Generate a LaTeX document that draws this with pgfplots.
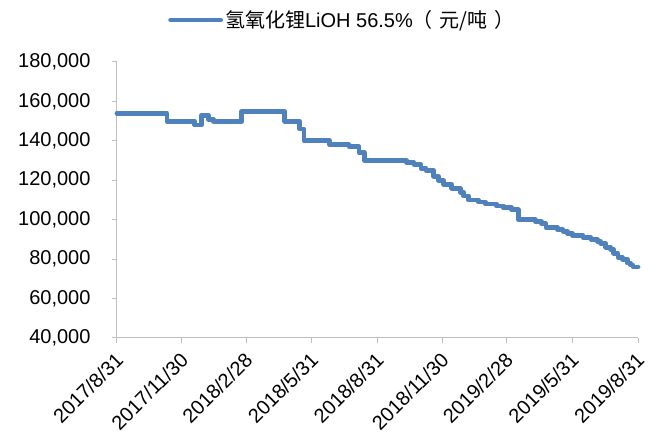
\documentclass[border=0pt]{standalone}
\usepackage{pgfplots}
\pgfplotsset{compat=1.18}
\usepackage{pgfplotstable}
\usepackage{fontspec}
\setmainfont{Liberation Sans}
\newfontfamily\cjk{Noto Sans CJK SC}
\definecolor{lineblue}{RGB}{79,129,189}
\definecolor{axgray}{RGB}{191,191,191}
% day = days since 2017-08-31, price in yuan/ton
\pgfplotstableread{
day price
0 154000
70 150000
109 148000
118 153000
128 151000
135 150000
175 155000
235 150000
256 146000
262 140000
298 138000
325 137000
339 134000
347 130000
406 129000
416 128000
426 126000
433 125000
444 122000
450 120000
458 118000
469 116000
481 114000
486 112000
492 110000
506 109000
516 108000
532 107000
541 106000
553 105000
562 100000
586 99000
595 98000
601 96000
617 95000
625 94000
631 93000
638 92000
653 91000
664 90000
673 89000
678 88000
685 86000
692 85000
696 83000
702 81000
708 80000
715 78000
719 77000
723 76000
730 76000
}\lioh
\begin{document}
\begin{tikzpicture}[x=1bp,y=1bp]
\begin{axis}[
  at={(0,0)}, anchor=south west,
  scale only axis, width=521bp, height=276bp,
  xmin=0, xmax=730, ymin=40000, ymax=180000,
  axis x line=bottom, axis y line=left,
  axis line style={axgray, line width=1bp, -},
  xtick={0,91,181,273,365,456,546,638,730},
  xticklabels={2017/8/31,2017/11/30,2018/2/28,2018/5/31,2018/8/31,2018/11/30,2019/2/28,2019/5/31,2019/8/31},
  ytick={40000,60000,80000,100000,120000,140000,160000,180000},
  tick align=outside, major tick length=5bp,
  tick style={axgray, line width=1bp},
  scaled y ticks=false,
  /pgf/number format/assume math mode=true,
  y tick label style={/pgf/number format/fixed, /pgf/number format/1000 sep={,}},
  tick label style={font=\fontsize{20bp}{24bp}\selectfont, text=black},
  yticklabel style={xshift=-18bp},
  xticklabel style={xshift=5bp, yshift=-11bp, rotate=45, anchor=east},
  legend style={at={(axis description cs:0.098,1.152)}, anchor=west, draw=none, fill=none,
    font=\fontsize{20bp}{24bp}\selectfont, inner sep=0pt},
  legend image code/.code={\draw[#1, line width=4.8bp, line cap=round] (0bp,0bp) -- (50bp,0bp);},
  clip=false,
]
\addplot[const plot, lineblue, line width=4.8bp, line join=round, line cap=round] table[x=day, y=price] {\lioh};
\addlegendentry{{\cjk 氢氧化锂}LiOH 56.5\%{\cjk （\hspace{7bp}元/吨\hspace{7bp}）}}
\end{axis}
\pgfresetboundingbox
\path[use as bounding box] (-117,-104) rectangle (538,338);
\end{tikzpicture}
\end{document}
